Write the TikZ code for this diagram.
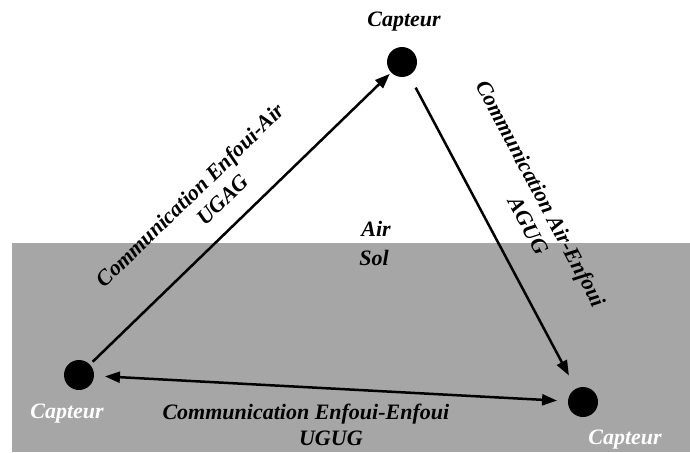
\documentclass[tikz,border=0pt]{standalone}
\usepackage{fontspec}
\setmainfont{Liberation Serif}
\usetikzlibrary{arrows.meta}
\definecolor{solgray}{RGB}{166,166,166}
\begin{document}
\begin{tikzpicture}[x=1pt,y=1pt,>={Triangle[length=15pt,width=11pt]},
    capteur/.style={circle,fill=black,minimum size=30pt,inner sep=0pt,outer sep=0pt},
    lbl/.style={font=\fontsize{22}{26}\selectfont\bfseries\itshape,inner sep=0pt,align=center},
    comm/.style={line width=2.5pt,->}]
  \useasboundingbox (0,0) rectangle (690,-452);
  % sol
  \fill [solgray] (12,-243) rectangle (690,-452);
  \node [lbl] (air) at (376,-228.5) {Air};
  \node [lbl] (sol) at (374,-257.5) {Sol};
  % capteurs
  \node [capteur] (top) at (402,-62) {};
  \node [capteur] (left) at (79,-375) {};
  \node [capteur] (right) at (583,-402) {};
  \node [lbl] (topname) at (404,-22) {Capteur};
  \node [lbl,white] (leftname) at (67,-414) {Capteur};
  \node [lbl,white] (rightname) at (625,-440) {Capteur};
  % liens
  \draw [comm,shorten <=4pt,shorten >=2pt] (left) -- node [lbl,sloped,above=17pt,pos=0.453] (ugag) {Communication Enfoui-Air\\\hspace*{40pt}UGAG} (top);
  \draw [comm,shorten <=14pt,shorten >=15pt] (top) -- node [lbl,sloped,above=26pt,pos=0.469] (agug) {Communication Air-Enfoui\\\hspace*{45pt}AGUG} (right);
  \draw [comm,<->,shorten <=11pt,shorten >=11pt] (left) -- node [lbl,below=16pt,pos=0.447] (ugug) {Communication Enfoui-Enfoui\\\hspace*{50pt}UGUG} (right);
\end{tikzpicture}
\end{document}
